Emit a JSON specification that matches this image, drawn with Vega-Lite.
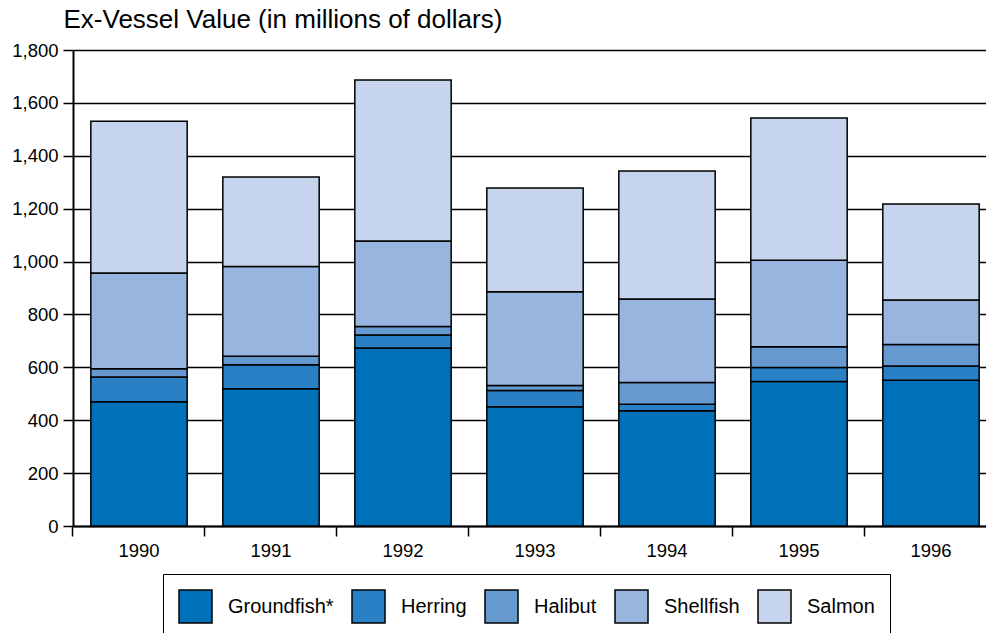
{
  "$schema": "https://vega.github.io/schema/vega-lite/v6.json",
  "width": 912,
  "height": 476,
  "autosize": "none",
  "padding": {"left": 73, "top": 50, "right": 1, "bottom": 107},
  "background": "white",
  "config": {
    "view": {"stroke": null},
    "font": "Liberation Sans",
    "axis": {"labelColor": "black", "labelFont": "Liberation Sans", "titleFont": "Liberation Sans"},
    "legend": {"strokeColor": "black", "padding": 15}
  },
  "data": {
    "values": [
      {"year": "1990", "species": "Groundfish*", "value": 470},
      {"year": "1990", "species": "Herring", "value": 93},
      {"year": "1990", "species": "Halibut", "value": 32},
      {"year": "1990", "species": "Shellfish", "value": 362},
      {"year": "1990", "species": "Salmon", "value": 574},
      {"year": "1991", "species": "Groundfish*", "value": 519},
      {"year": "1991", "species": "Herring", "value": 91},
      {"year": "1991", "species": "Halibut", "value": 32},
      {"year": "1991", "species": "Shellfish", "value": 339},
      {"year": "1991", "species": "Salmon", "value": 339},
      {"year": "1992", "species": "Groundfish*", "value": 673},
      {"year": "1992", "species": "Herring", "value": 49},
      {"year": "1992", "species": "Halibut", "value": 32},
      {"year": "1992", "species": "Shellfish", "value": 324},
      {"year": "1992", "species": "Salmon", "value": 609},
      {"year": "1993", "species": "Groundfish*", "value": 451},
      {"year": "1993", "species": "Herring", "value": 61},
      {"year": "1993", "species": "Halibut", "value": 19},
      {"year": "1993", "species": "Shellfish", "value": 355},
      {"year": "1993", "species": "Salmon", "value": 392},
      {"year": "1994", "species": "Groundfish*", "value": 436},
      {"year": "1994", "species": "Herring", "value": 24},
      {"year": "1994", "species": "Halibut", "value": 83},
      {"year": "1994", "species": "Shellfish", "value": 315},
      {"year": "1994", "species": "Salmon", "value": 484},
      {"year": "1995", "species": "Groundfish*", "value": 546},
      {"year": "1995", "species": "Herring", "value": 53},
      {"year": "1995", "species": "Halibut", "value": 79},
      {"year": "1995", "species": "Shellfish", "value": 327},
      {"year": "1995", "species": "Salmon", "value": 538},
      {"year": "1996", "species": "Groundfish*", "value": 551},
      {"year": "1996", "species": "Herring", "value": 54},
      {"year": "1996", "species": "Halibut", "value": 81},
      {"year": "1996", "species": "Shellfish", "value": 169},
      {"year": "1996", "species": "Salmon", "value": 363}
    ]
  },
  "transform": [
    {"calculate": "indexof(['Groundfish*','Herring','Halibut','Shellfish','Salmon'], datum.species)", "as": "stackOrder"}
  ],
  "mark": {"type": "bar", "stroke": "black", "strokeWidth": 1.5},
  "encoding": {
    "x": {
      "field": "year",
      "type": "nominal",
      "scale": {"range": [0, 924], "paddingInner": 0.27, "paddingOuter": 0.135},
      "axis": {
        "title": null,
        "labelAngle": 0,
        "labelFontSize": 18.5,
        "labelPadding": 5,
        "bandPosition": -0.1875,
        "tickSize": 10,
        "tickColor": "black",
        "tickWidth": 1.5,
        "domainColor": "black",
        "domainWidth": 2,
        "grid": false
      }
    },
    "y": {
      "field": "value",
      "type": "quantitative",
      "stack": "zero",
      "scale": {"domain": [0, 1800], "nice": false},
      "axis": {
        "values": [0, 200, 400, 600, 800, 1000, 1200, 1400, 1600, 1800],
        "format": ",d",
        "labelFontSize": 18.5,
        "labelPadding": 5,
        "tickSize": 10,
        "tickColor": "black",
        "tickWidth": 1.5,
        "domainColor": "black",
        "domainWidth": 2,
        "grid": true,
        "gridColor": "black",
        "gridWidth": 1.5,
        "gridOpacity": 1,
        "title": "Ex-Vessel Value (in millions of dollars)",
        "titleAngle": 0,
        "titleAlign": "left",
        "titleBaseline": "alphabetic",
        "titleX": -10,
        "titleY": -23,
        "titleFontSize": 26,
        "titleFontWeight": "normal",
        "titleColor": "black"
      }
    },
    "order": {"field": "stackOrder", "type": "quantitative", "sort": "ascending"},
    "color": {
      "field": "species",
      "type": "nominal",
      "sort": ["Groundfish*", "Herring", "Halibut", "Shellfish", "Salmon"],
      "scale": {
        "domain": ["Groundfish*", "Herring", "Halibut", "Shellfish", "Salmon"],
        "range": ["#0070B8", "#2A80C5", "#6699D0", "#97B5DE", "#C6D4ED"]
      },
      "legend": {
        "title": null,
        "orient": "none",
        "legendX": 90,
        "legendY": 524,
        "direction": "horizontal",
        "symbolType": "square",
        "symbolSize": 1089,
        "symbolStrokeColor": "black",
        "symbolStrokeWidth": 1.5,
        "symbolOpacity": 1,
        "labelFontSize": 20,
        "labelColor": "black",
        "labelOffset": 15,
        "columnPadding": 15
      }
    }
  }
}
